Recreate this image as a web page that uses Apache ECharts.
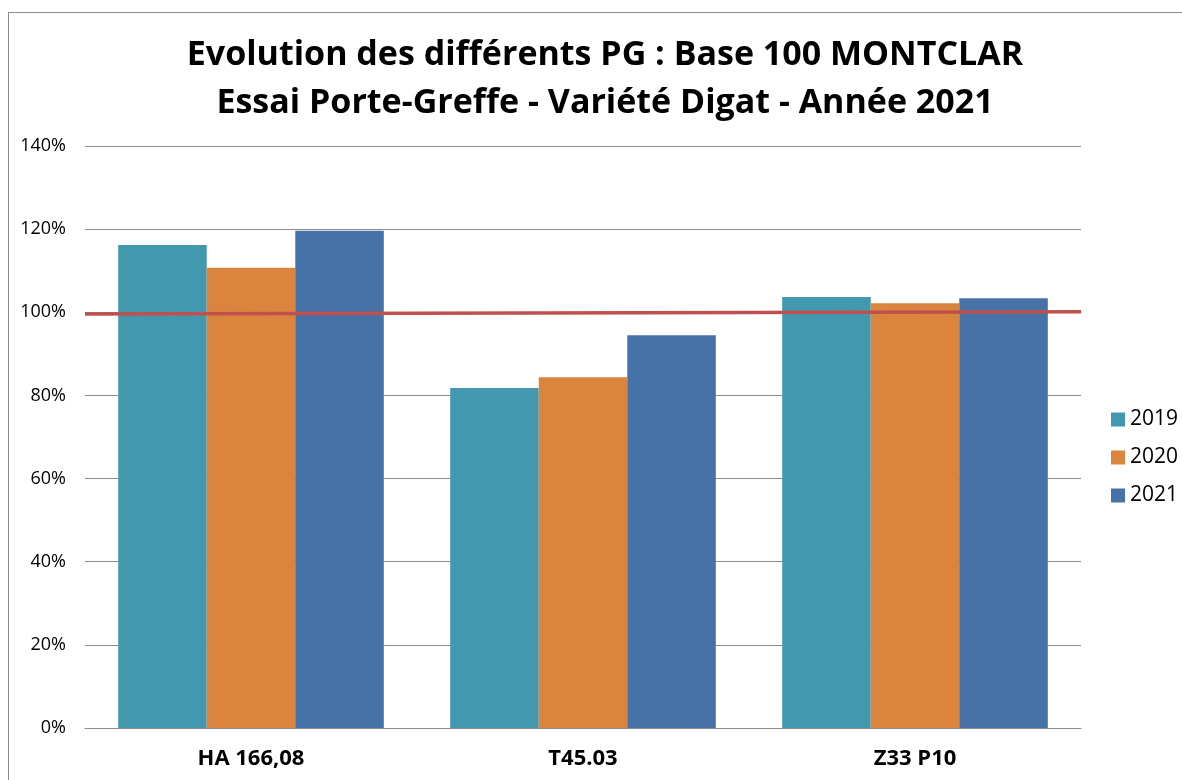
<!DOCTYPE html>
<html>
<head>
<meta charset="utf-8">
<script src="https://cdn.jsdelivr.net/npm/echarts@6/dist/echarts.min.js"></script>
<style>
  html, body { margin: 0; padding: 0; background: #fff; }
  #frame { position: absolute; left: 8px; top: 12px; width: 1190px; height: 790px; border: 1px solid #8c8c8c; box-sizing: border-box; }
  #chart { position: absolute; left: 0; top: 0; width: 1182px; height: 780px; }
</style>
</head>
<body>
<div id="frame"></div>
<div id="chart"></div>
<script>
    // données (en %)
    const categories = ['HA 166,08', 'T45.03', 'Z33 P10'];
    const years = ['2019', '2020', '2021'];
    const values2019 = [116.2, 81.8, 103.7];
    const values2020 = [110.7, 84.4, 102.2];
    const values2021 = [119.6, 94.5, 103.4];
    // ligne de référence base 100 (début / fin)
    const baseLine = [[0, 99.6], [1, 100.1]];

    const colors = ['#4198AF', '#DB843D', '#4672A8'];
    const font = '"Open Sans", "Liberation Sans", sans-serif';

    const chart = echarts.init(document.getElementById('chart'));

    const barSeries = [values2019, values2020, values2021].map((vals, i) => ({
        name: years[i],
        type: 'bar',
        data: vals,
        barGap: '0%',
        barCategoryGap: '20%',
        itemStyle: { color: colors[i] }
    }));

    chart.setOption({
        animation: false,
        title: {
            text: 'Evolution des différents PG : Base 100 MONTCLAR\nEssai Porte-Greffe - Variété Digat - Année 2021',
            left: 600,
            top: 26,
            textAlign: 'center',
            textStyle: {
                fontFamily: font,
                fontWeight: 'bold',
                fontSize: 34,
                lineHeight: 48,
                color: '#000'
            }
        },
        legend: {
            orient: 'vertical',
            left: 1106,
            top: 404,
            itemWidth: 14,
            itemHeight: 14,
            itemGap: 17,
            icon: 'rect',
            data: years,
            textStyle: { fontFamily: font, fontSize: 21, color: '#000' }
        },
        grid: { left: 85, right: 101, top: 146, bottom: 52 },
        xAxis: [{
            type: 'category',
            data: categories,
            axisLine: { lineStyle: { color: '#8c8c8c', width: 1 } },
            axisTick: { show: false },
            axisLabel: {
                fontFamily: font,
                fontWeight: 'bold',
                fontSize: 22,
                color: '#000',
                margin: 20
            }
        }, {
            type: 'value',
            min: 0,
            max: 1,
            show: false
        }],
        yAxis: {
            type: 'value',
            min: 0,
            max: 140,
            interval: 20,
            axisLine: { show: false },
            axisTick: { show: false },
            splitLine: { lineStyle: { color: '#8c8c8c', width: 1 } },
            axisLabel: {
                formatter: '{value}%',
                fontFamily: font,
                fontSize: 18,
                color: '#000',
                margin: 19
            }
        },
        series: barSeries.concat([{
            name: 'Base 100',
            type: 'line',
            xAxisIndex: 1,
            data: baseLine,
            symbol: 'none',
            lineStyle: { color: '#C0504D', width: 3.5 },
            z: 5
        }])
    });
</script>
</body>
</html>
